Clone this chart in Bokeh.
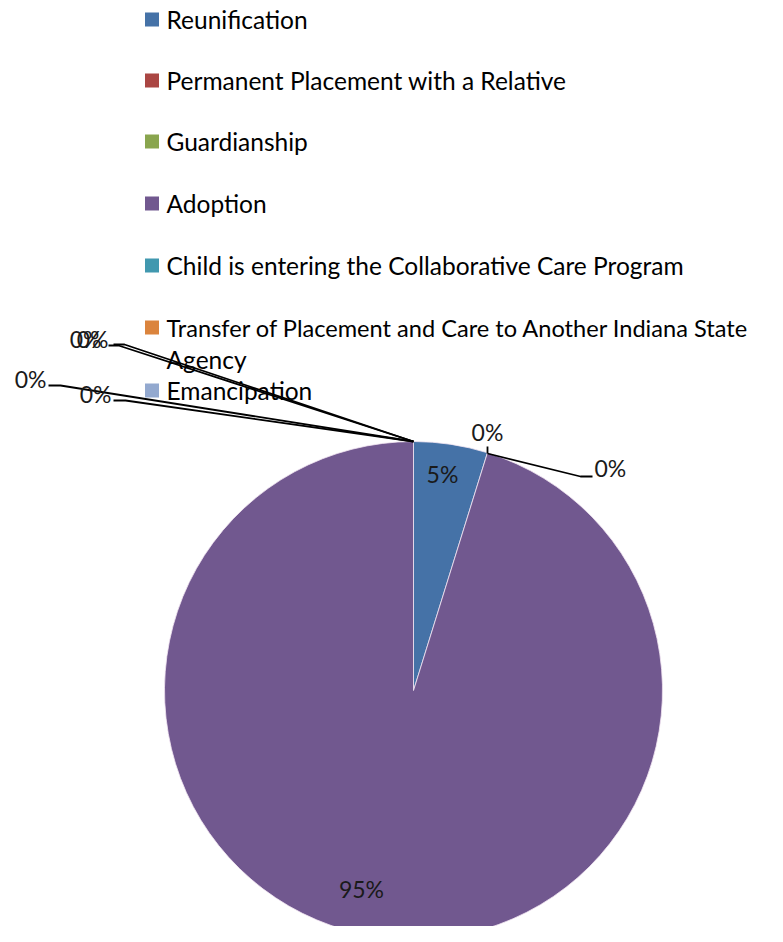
import math
from bokeh.plotting import figure
from bokeh.models import Range1d
from bokeh.embed import file_html
from bokeh.resources import INLINE
from bokeh.core.properties import value

categories = [
    "Reunification",
    "Permanent Placement with a Relative",
    "Guardianship",
    "Adoption",
    "Child is entering the Collaborative Care Program",
    "Transfer of Placement and Care to Another Indiana State Agency",
    "Emancipation",
]
values = [4.8, 0.0, 0.0, 95.2, 0.0, 0.0, 0.0]
colors = ["#4572A7", "#AA4643", "#89A54E", "#71588F", "#4198AF", "#DB843D", "#93A9CF"]

W, H = 767, 926
FONT = "Lato"

p = figure(width=W, height=H, output_backend="svg", toolbar_location=None,
           x_range=Range1d(0, W), y_range=Range1d(942 - H, 942))
p.axis.visible = False
p.grid.visible = False
p.outline_line_color = None
p.min_border = 0
p.background_fill_color = "white"


def Y(sy):
    return 942 - sy


cx, cy, r = 413, Y(690), 249
total = sum(values)
cum = 0.0
for v, c in zip(values, colors):
    a0 = math.pi / 2 - cum / total * 2 * math.pi
    cum += v
    a1 = math.pi / 2 - cum / total * 2 * math.pi
    if v > 0:
        p.wedge(x=[cx], y=[cy], radius=r, start_angle=a0, end_angle=a1,
                direction="clock", fill_color=c, line_color="#F2E6F2", line_width=0.8)

# inside labels
inside = {0: (442, 473), 3: (361, 888)}
for i, (sx, sy) in inside.items():
    p.text(x=[sx], y=[Y(sy)], text=[f"{round(values[i])}%"], text_font=value(FONT),
           text_font_size="23px", text_align="center", text_baseline="middle", text_color="#1a1a1a")

# leader lines and outside labels for zero slices
leaders = [
    ([487, 487], [453, 446], (487, 431), "center"),
    ([487, 580, 592], [453, 476, 476], (594, 467), "left"),
    ([413, 118, 108], [441, 345, 345], (108, 338), "right"),
    ([413, 124, 113], [441, 344, 344], (101, 338), "right"),
    ([413, 60, 48], [441, 385, 385], (46, 378), "right"),
    ([413, 125, 113], [441, 400, 400], (111, 393), "right"),
]
for xs, ys, (lx, ly), al in leaders:
    p.line(x=xs, y=[Y(v) for v in ys], line_color="black", line_width=1.8)
for xs, ys, (lx, ly), al in leaders:
    p.text(x=[lx], y=[Y(ly)], text=["0%"], text_font=value(FONT), text_font_size="23px",
           text_align=al, text_baseline="middle", text_color="#1a1a1a")

# legend
rows = [19, 80, 141, 203, 265, 327, 390]
for name, c, ry in zip(categories, colors, rows):
    p.rect(x=[151.5], y=[Y(ry)], width=14, height=14, fill_color=c, line_color=None)
    if name.endswith("Agency"):
        p.text(x=[166], y=[Y(ry)], text=[name[:-7]], text_font=value(FONT), text_font_size="23.6px",
               text_align="left", text_baseline="middle", text_color="black")
        p.text(x=[166], y=[Y(ry + 32)], text=["Agency"], text_font=value(FONT), text_font_size="24.5px",
               text_align="left", text_baseline="middle", text_color="black")
    else:
        p.text(x=[166], y=[Y(ry)], text=[name], text_font=value(FONT), text_font_size="24.5px",
               text_align="left", text_baseline="middle", text_color="black")

open("out.html", "w").write(file_html(p, INLINE))
